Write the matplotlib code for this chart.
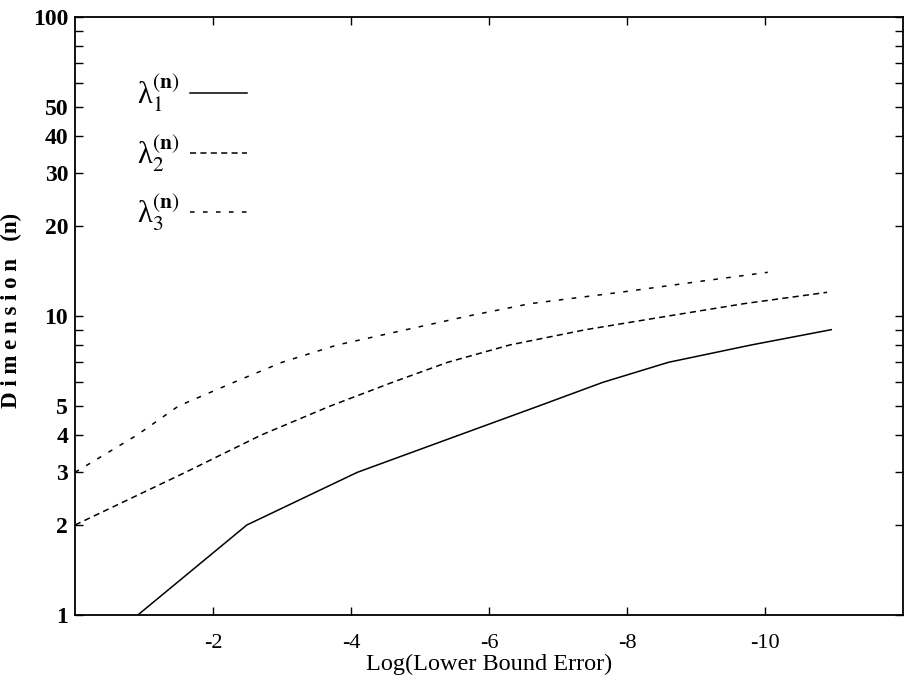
import numpy as np
import matplotlib
matplotlib.use("Agg")
import matplotlib.pyplot as plt
from matplotlib.ticker import FixedLocator, NullFormatter

plt.rcParams['font.family'] = ['Liberation Serif', 'DejaVu Serif']
plt.rcParams['mathtext.fontset'] = 'stix'

# lambda_1^(n): solid
x1 = [-0.91, -2.49, -4.09, -5.57, -6.72, -7.65, -8.6, -9.8, -10.96]
y1 = [1, 2, 3, 4, 5, 6, 7, 8, 9]

# lambda_2^(n): dashed
x2 = [0.0, -1.6, -2.7, -3.7, -4.6, -5.4, -6.3, -7.4, -8.6, -9.7, -10.9]
y2 = [2, 3, 4, 5, 6, 7, 8, 9, 10, 11, 12]

# lambda_3^(n): sparse dashes
x3 = [0.0, -0.9, -1.5, -2.3, -3.0, -3.8, -4.8, -5.7, -6.6, -7.9, -9.0, -10.04]
y3 = [3, 4, 5, 6, 7, 8, 9, 10, 11, 12, 13, 14]

labels = [r'λ$_1^{(\mathbf{n})}$', r'λ$_2^{(\mathbf{n})}$',
          r'λ$_3^{(\mathbf{n})}$']

xticks = [-2, -4, -6, -8, -10]
ymajor = [1, 2, 3, 4, 5, 10, 20, 30, 40, 50, 100]
yminor = [6, 7, 8, 9, 60, 70, 80, 90]

fig = plt.figure(figsize=(9.06, 6.76), dpi=100)
ax = fig.add_axes([0.0828, 0.0902, 0.9139, 0.8847])

ax.plot(x1, y1, color='black', lw=1.1, ls='-', label=labels[0])
ax.plot(x2, y2, color='black', lw=1.1, ls=(0, (4.0, 2.8)), label=labels[1])
ax.plot(x3, y3, color='black', lw=1.1, ls=(0, (3.0, 5.5)), label=labels[2])

ax.set_yscale('log')
ax.set_xlim(0, -12)
ax.set_ylim(1, 100)

ax.set_xticks(xticks)
ax.set_xticklabels([str(t) for t in xticks], fontsize=16)
ax.yaxis.set_major_locator(FixedLocator(ymajor))
ax.yaxis.set_minor_locator(FixedLocator(yminor))
ax.set_yticklabels([str(t) for t in ymajor], fontsize=17, fontweight='bold')
ax.yaxis.set_minor_formatter(NullFormatter())

ax.tick_params(which='both', direction='in', top=True, right=True,
               length=6, width=1.0)
ax.tick_params(axis='y', pad=5)
ax.tick_params(axis='x', pad=14)
for s in ax.spines.values():
    s.set_linewidth(1.3)

ax.set_xlabel('Log(Lower Bound Error)', fontsize=17.5, labelpad=0)
ax.set_ylabel('D i m e n s i o n   (n)', fontsize=16.5, fontweight='bold')
ax.yaxis.set_label_coords(-0.064, 0.51)

leg = ax.legend(loc='upper left', bbox_to_anchor=(0.042, 0.953),
                frameon=False, markerfirst=False, fontsize=22,
                handlelength=1.85, handletextpad=0.35, labelspacing=0.62)

fig.savefig('out.png', dpi=100)
